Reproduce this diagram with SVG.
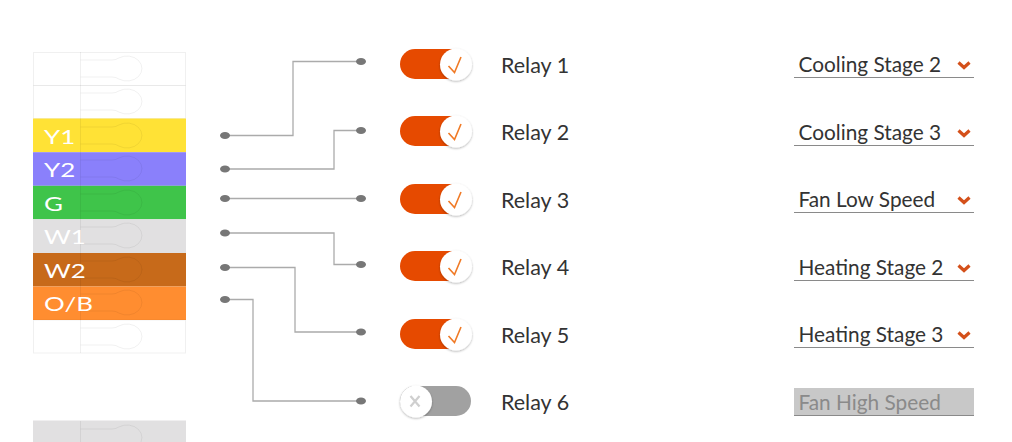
<svg xmlns="http://www.w3.org/2000/svg" width="1012" height="442" viewBox="0 0 1012 442">
<style>
text{font-family:Lato,"Open Sans","Liberation Sans",sans-serif}
.tl{font-size:18.500px;fill:#fff}
.rl{font-size:21.500px;fill:#333}
.sl{font-size:20.800px;fill:#333}
.ul{stroke:#8a8a8a;stroke-width:1;fill:none}
.key{fill:none;stroke:#000;stroke-opacity:.06;stroke-width:1}
.wire{fill:none;stroke:#ababab;stroke-width:1.300}
.dot{fill:#777}
.on{fill:#e64a00}
.knob{fill:#fff;filter:url(#sh)}
.chk{fill:none;stroke:#f07a26;stroke-width:1.600}
.chev{fill:none;stroke:#d4501a;stroke-width:3.200}
</style>
<defs>
<filter id="sh" x="-30%" y="-30%" width="160%" height="170%"><feDropShadow dx="0" dy="1" stdDeviation="1.300" flood-color="#000" flood-opacity=".3"/></filter>
<path id="keyhole" class="key" d="M80.500 8H112Q116 8 119 5.900A15 12.500 0 1 1 119 27.100Q116 25 112 25H80.500"/>
</defs>
<rect width="1012" height="442" fill="#fff"/>
<g id="terminal-block">
<rect x="33.500" y="52.500" width="152" height="33" fill="#fff" stroke="#000" stroke-opacity=".06"/>
<rect x="33.500" y="85.500" width="152" height="33" fill="#fff" stroke="#000" stroke-opacity=".06"/>
<rect x="33" y="118.500" width="153" height="33.700" fill="#ffe236"/>
<rect x="33" y="152.200" width="153" height="33.600" fill="#8a80fb"/>
<rect x="33" y="185.800" width="153" height="33.500" fill="#3fc44a"/>
<rect x="33" y="219.300" width="153" height="33.700" fill="#e1e0e1"/>
<rect x="33" y="253" width="153" height="33.500" fill="#c76a1a"/>
<rect x="33" y="286.500" width="153" height="33.500" fill="#ff8d30"/>
<rect x="33.500" y="320" width="152" height="33" fill="#fff" stroke="#000" stroke-opacity=".06"/>
<rect x="33" y="420.500" width="153" height="21.500" fill="#e1e0e1"/>
<path class="key" d="M80.500 52V353M80.500 421V442"/>
<use href="#keyhole" y="52"/><use href="#keyhole" y="85"/><use href="#keyhole" y="119"/><use href="#keyhole" y="152"/><use href="#keyhole" y="186"/><use href="#keyhole" y="219"/><use href="#keyhole" y="253"/><use href="#keyhole" y="286"/><use href="#keyhole" y="320"/><use href="#keyhole" y="421"/>
<text class="tl" transform="translate(44 144) scale(1.4 1)">Y1</text>
<text class="tl" transform="translate(44 177) scale(1.4 1)">Y2</text>
<text class="tl" transform="translate(44 210.500) scale(1.4 1)">G</text>
<text class="tl" transform="translate(44 244) scale(1.4 1)">W1</text>
<text class="tl" transform="translate(44 277.500) scale(1.4 1)">W2</text>
<text class="tl" transform="translate(44 311) scale(1.4 1)">O/B</text>
</g>
<g id="connectors">
<path class="wire" d="M225 135.500H293V61.500H361"/>
<path class="wire" d="M225 169H334V130.500H361"/>
<path class="wire" d="M225 198.500H361"/>
<path class="wire" d="M225 233H334V264.500H361"/>
<path class="wire" d="M225 267.500H295V332H361"/>
<path class="wire" d="M225 299.500H253V401H361"/>
<g class="dot">
<ellipse cx="225" cy="135.500" rx="5" ry="3.500"/><ellipse cx="225" cy="169" rx="5" ry="3.500"/><ellipse cx="225" cy="198.500" rx="5" ry="3.500"/><ellipse cx="225" cy="233" rx="5" ry="3.500"/><ellipse cx="225" cy="267.500" rx="5" ry="3.500"/><ellipse cx="225" cy="299.500" rx="5" ry="3.500"/>
<ellipse cx="361" cy="61.500" rx="5" ry="3.500"/><ellipse cx="361" cy="130.500" rx="5" ry="3.500"/><ellipse cx="361" cy="198.500" rx="5" ry="3.500"/><ellipse cx="361" cy="264.500" rx="5" ry="3.500"/><ellipse cx="361" cy="332" rx="5" ry="3.500"/><ellipse cx="361" cy="401" rx="5" ry="3.500"/>
</g>
</g>
<g id="relay-1"><rect class="on" x="400" y="49" width="70" height="30" rx="15"/><circle class="knob" cx="456" cy="64.500" r="16"/><path class="chk" d="M448.500 66L454.500 72.500L461 57"/><text class="rl" x="501" y="73">Relay 1</text></g>
<g id="relay-2"><rect class="on" x="400" y="116" width="70" height="30" rx="15"/><circle class="knob" cx="456" cy="131.500" r="16"/><path class="chk" d="M448.500 133L454.500 139.500L461 124"/><text class="rl" x="501" y="140">Relay 2</text></g>
<g id="relay-3"><rect class="on" x="400" y="184" width="70" height="30" rx="15"/><circle class="knob" cx="456" cy="199.500" r="16"/><path class="chk" d="M448.500 201L454.500 207.500L461 192"/><text class="rl" x="501" y="208">Relay 3</text></g>
<g id="relay-4"><rect class="on" x="400" y="251" width="70" height="30" rx="15"/><circle class="knob" cx="456" cy="266.500" r="16"/><path class="chk" d="M448.500 268L454.500 274.500L461 259"/><text class="rl" x="501" y="275">Relay 4</text></g>
<g id="relay-5"><rect class="on" x="400" y="319" width="70" height="30" rx="15"/><circle class="knob" cx="456" cy="334.500" r="16"/><path class="chk" d="M448.500 336L454.500 342.500L461 327"/><text class="rl" x="501" y="343">Relay 5</text></g>
<g id="relay-6"><rect x="400" y="386" width="71" height="30" rx="15" fill="#a1a1a1"/><circle class="knob" cx="416" cy="401.500" r="16"/><path d="M410.500 396L419.500 406.500M419.500 396L410.500 406.500" fill="none" stroke="#cfcfcf" stroke-width="2.200"/><text class="rl" x="501" y="410">Relay 6</text></g>
<g id="select-1"><text class="sl" x="798.500" y="72">Cooling Stage 2</text><path class="chev" d="M958.500 62.500L964 67.500L969.500 62.500"/><path class="ul" d="M794 77.500H974"/></g>
<g id="select-2"><text class="sl" x="798.500" y="140">Cooling Stage 3</text><path class="chev" d="M958.500 130.500L964 135.500L969.500 130.500"/><path class="ul" d="M794 145.500H974"/></g>
<g id="select-3"><text class="sl" x="798.500" y="207">Fan Low Speed</text><path class="chev" d="M958.500 197.500L964 202.500L969.500 197.500"/><path class="ul" d="M794 212.500H974"/></g>
<g id="select-4"><text class="sl" x="798.500" y="275">Heating Stage 2</text><path class="chev" d="M958.500 265.500L964 270.500L969.500 265.500"/><path class="ul" d="M794 280.500H974"/></g>
<g id="select-5"><text class="sl" x="798.500" y="342">Heating Stage 3</text><path class="chev" d="M958.500 332.500L964 337.500L969.500 332.500"/><path class="ul" d="M794 347.500H974"/></g>
<g id="select-6"><rect x="794" y="388" width="180" height="27" fill="#c8c8c8"/><text class="sl" x="798.500" y="410" style="fill:#8a8a8a">Fan High Speed</text><path class="ul" d="M794 415.500H974"/></g>
</svg>
